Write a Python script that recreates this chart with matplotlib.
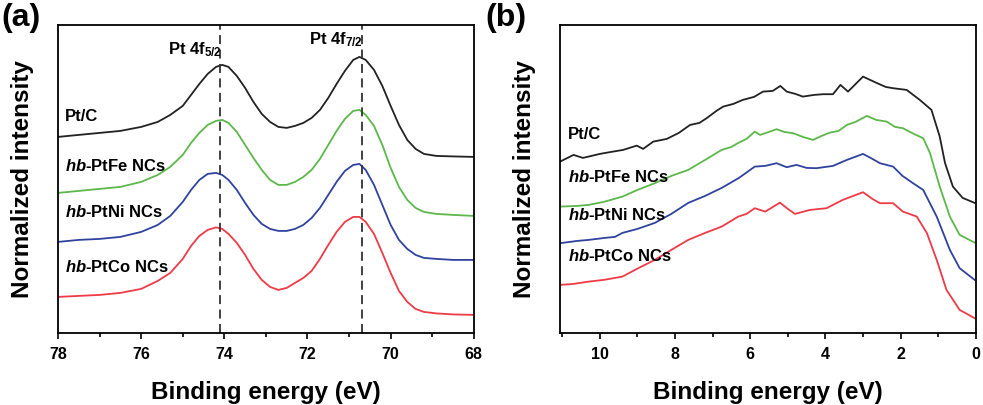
"""XPS Pt 4f core levels (a) and valence band spectra (b) for Pt/C and hb-Pt alloy NCs."""

import matplotlib

matplotlib.use("Agg")
import matplotlib.pyplot as plt
from matplotlib.ticker import MultipleLocator

plt.rcParams["font.family"] = ["Liberation Sans", "DejaVu Sans"]
plt.rcParams["mathtext.fontset"] = "custom"
plt.rcParams["mathtext.rm"] = "Liberation Sans"
plt.rcParams["mathtext.it"] = "Liberation Sans:italic:bold"
plt.rcParams["mathtext.bf"] = "Liberation Sans:bold"

# ---- (a) Pt 4f spectra: binding energy (eV) and offset intensity (a.u.) ----
a_x = [78.0, 77.5, 77.0, 76.5, 76.0, 75.6, 75.3, 75.0, 74.8, 74.6, 74.4, 74.2,
       74.05, 73.9, 73.7, 73.5, 73.3, 73.1, 72.9, 72.7, 72.5, 72.3, 72.1, 71.9,
       71.7, 71.5, 71.3, 71.1, 70.9, 70.75, 70.6, 70.4, 70.2, 70.0, 69.8, 69.6,
       69.4, 69.2, 68.9, 68.5, 68.0]
a_ptc = [196, 198, 200, 202, 206, 211, 218, 227, 238, 249, 259, 266,
         268, 266, 257, 245, 231, 219, 211, 206, 205, 207, 210, 215,
         223, 235, 249, 262, 273, 276, 273, 263, 247, 227, 208, 193,
         184, 179, 177, 176.5, 176]
a_ptfe = [140, 142, 144, 146, 151, 158, 166, 178, 190, 200, 208, 212,
          213, 210, 201, 188, 175, 163, 153, 148, 148, 151, 156, 163,
          174, 188, 202, 214, 222, 223, 218, 207, 188, 165, 146, 133,
          125, 121, 119, 118, 117]
a_ptni = [91, 93, 94, 96, 101, 108, 117, 131, 143, 153, 159, 160,
          158, 153, 143, 130, 118, 109, 104, 102, 102, 104, 108, 115,
          125, 138, 151, 162, 168, 169, 163, 148, 128, 108, 93, 84,
          78, 75, 74, 73, 73]
a_ptco = [36, 37, 38, 40, 44, 52, 60, 74, 87, 97, 103, 105.5,
          104, 99, 90, 78, 64, 53, 46, 43, 45, 50, 55, 62,
          74, 88, 101, 111, 116, 116, 111, 99, 80, 60, 42, 31,
          24, 21, 19.5, 18.5, 18]

# ---- (b) valence band spectra ----
b_ptc_x = [11.06, 10.7, 10.45, 10.0, 9.7, 9.38, 9.02, 8.85, 8.58, 8.22, 7.9, 7.6,
           7.35, 7.15, 6.9, 6.72, 6.45, 6.2, 5.9, 5.66, 5.4, 5.2, 5.03, 4.8, 4.6,
           4.3, 4.06, 3.8, 3.6, 3.4, 3.0, 2.64, 2.4, 2.2, 1.84, 1.49, 1.18, 0.96,
           0.82, 0.61, 0.35, 0.03]
b_ptc_y = [171.3, 178, 175, 179, 181, 183, 187.3, 184, 191.3, 194, 200, 208,
           210, 215, 222, 226.3, 229, 233, 236, 241.3, 242, 247, 241.3, 239, 236.3,
           238, 238.7, 238.7, 248, 241.3, 256.3, 250, 246, 244.7, 243, 233, 223, 196.3,
           170, 146.3, 135, 130]

b_ptfe_x = [11.06, 10.6, 10.3, 9.9, 9.4, 9.0, 8.54, 8.1, 7.65, 7.2, 6.76, 6.5,
            6.32, 6.1, 5.88, 5.74, 5.5, 5.3, 5.1, 4.86, 4.6, 4.33, 4.1, 3.88, 3.65,
            3.43, 3.2, 2.9, 2.65, 2.37, 2.15, 1.94, 1.65, 1.4, 1.22, 0.96, 0.69,
            0.43, 0.03]
b_ptfe_y = [126.3, 127, 128, 131, 136.3, 143, 149.7, 157, 163, 173, 183, 186,
            190, 194, 201.3, 198, 201, 203.7, 201, 199.7, 196, 193, 197, 200.3, 202,
            208, 211, 217, 213, 211.3, 206, 204.7, 199, 194.7, 180, 146.3, 116.3,
            98, 90.3]

b_ptni_x = [11.06, 10.6, 10.3, 9.87, 9.6, 9.4, 9.0, 8.54, 8.1, 7.65, 7.2, 6.76,
            6.3, 5.88, 5.6, 5.3, 5.03, 4.77, 4.5, 4.24, 3.8, 3.43, 3.0, 2.75, 2.55,
            2.2, 1.95, 1.67, 1.4, 1.04, 0.69, 0.43, 0.03]
b_ptni_y = [89.7, 92, 93, 95, 96, 100, 104, 110, 119, 130, 137, 145,
            155, 166.3, 167, 169.7, 165.7, 168, 165, 164.7, 167, 173, 179, 174, 169.7,
            166.3, 157, 149.7, 143, 116.3, 83, 64.7, 53]

b_ptco_x = [11.06, 10.7, 10.3, 9.9, 9.4, 8.98, 8.54, 8.1, 7.65, 7.2, 6.76, 6.32,
            6.1, 5.88, 5.6, 5.21, 5.0, 4.81, 4.41, 3.97, 3.54, 3.0, 2.75, 2.55, 2.2,
            1.94, 1.57, 1.3, 1.04, 0.78, 0.43, 0.03]
b_ptco_y = [48, 49, 51.3, 53, 56.3, 64.7, 73, 83, 93, 100, 106.3, 116.3,
            119, 124.7, 121.3, 130.3, 124, 119, 123, 124.7, 133, 140.7, 134, 129.7, 129.7,
            121.3, 116.3, 99.7, 73, 43, 23, 14.7]

sample_labels = ["Pt/C", r"$\mathit{hb}$-PtFe NCs", r"$\mathit{hb}$-PtNi NCs",
                 r"$\mathit{hb}$-PtCo NCs"]
colors = ["#222222", "#5cb84a", "#2f439e", "#ee3b47"]
peak_positions = [74.1, 70.7]
peak_labels = [r"Pt 4f$_{\mathbf{5/2}}$", r"Pt 4f$_{\mathbf{7/2}}$"]

fig = plt.figure(figsize=(9.83, 4.05), dpi=100)
ax_a = fig.add_axes([0.059, 0.178, 0.423, 0.7605])
ax_b = fig.add_axes([0.5697, 0.178, 0.423, 0.7605])


def _style(ax, xlim, major, minor):
    ax.set_xlim(*xlim)
    ax.set_ylim(0, 308)
    ax.set_yticks([])
    ax.xaxis.set_major_locator(MultipleLocator(major))
    ax.xaxis.set_minor_locator(MultipleLocator(minor))
    ax.tick_params(axis="x", which="major", direction="out", length=4, width=1.2,
                   labelsize=11.5, pad=6)
    ax.tick_params(axis="x", which="minor", direction="out", length=3, width=1.2)
    for lab in ax.get_xticklabels():
        lab.set_fontweight("bold")
    for sp in ax.spines.values():
        sp.set_linewidth(1.3)
    ax.set_xlabel("Binding energy (eV)", fontsize=17.5, fontweight="bold", labelpad=14)
    ax.set_ylabel("Normalized intensity", fontsize=17.5, fontweight="bold", labelpad=17)


# (a)
for y, c in zip([a_ptc, a_ptfe, a_ptni, a_ptco], colors):
    ax_a.plot(a_x, y, color=c, lw=1.3)
for pos in peak_positions:
    ax_a.axvline(pos, color="#333333", lw=1.3, ls=(0, (5, 3)))
ax_a.text(74.06, 283, peak_labels[0], ha="right", va="center", fontsize=12, fontweight="bold")
ax_a.text(70.66, 293, peak_labels[1], ha="right", va="center", fontsize=12, fontweight="bold")
for lab, yy in zip(sample_labels, [216, 167, 121, 66]):
    ax_a.text(77.83, yy, lab, ha="left", va="center", fontsize=12, fontweight="bold")
_style(ax_a, (78, 68), 2, 1)

# (b)
b_data = [(b_ptc_x, b_ptc_y), (b_ptfe_x, b_ptfe_y), (b_ptni_x, b_ptni_y), (b_ptco_x, b_ptco_y)]
for (x, y), c in zip(b_data, colors):
    ax_b.plot(x, y, color=c, lw=1.3)
for lab, yy in zip(sample_labels, [198, 156, 118, 77]):
    ax_b.text(10.84, yy, lab, ha="left", va="center", fontsize=12, fontweight="bold")
_style(ax_b, (11.06, 0), 2, 1)

fig.text(0.001, 0.955, "(a)", fontsize=23, fontweight="bold", ha="left", va="center")
fig.text(0.494, 0.955, "(b)", fontsize=23, fontweight="bold", ha="left", va="center")

fig.savefig("out.png", dpi=100)
